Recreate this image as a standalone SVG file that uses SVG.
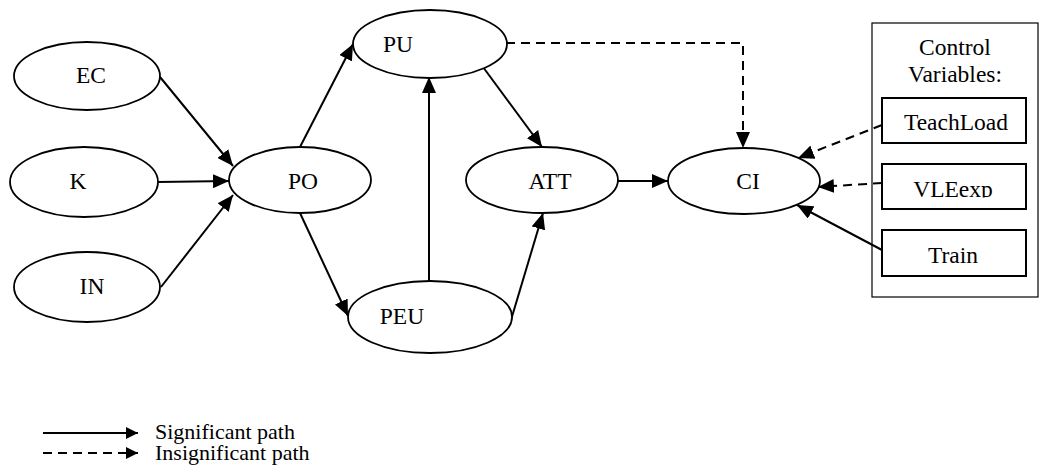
<svg xmlns="http://www.w3.org/2000/svg" width="1039" height="475" viewBox="0 0 1039 475">
  <style>
    .node { fill: #fff; stroke: #000; stroke-width: 1.8; }
    .box { fill: #fff; stroke: #000; stroke-width: 2; }
    .frame { fill: #fff; stroke: #000; stroke-width: 1.2; }
    .lbl { font-family: "Liberation Serif", "Times New Roman", serif; font-size: 23.5px; fill: #000; text-anchor: middle; }
    .leg { font-family: "Liberation Serif", "Times New Roman", serif; font-size: 22px; fill: #000; }
    .edge { fill: none; stroke: #000; stroke-width: 2; marker-end: url(#arrow); }
    .dash { stroke-dasharray: 9 6; }
    .legline { fill: none; stroke: #000; stroke-width: 2; marker-end: url(#arrowSmall); }
  </style>
  <defs>
    <marker id="arrow" markerUnits="userSpaceOnUse" markerWidth="16" markerHeight="14" refX="16" refY="7" orient="auto">
      <path d="M0,0 L16,7 L0,14 z" fill="#000"/>
    </marker>
    <marker id="arrowSmall" markerUnits="userSpaceOnUse" markerWidth="12" markerHeight="12" refX="12" refY="6" orient="auto">
      <path d="M0,0 L12,6 L0,12 z" fill="#000"/>
    </marker>
    <!-- VLEexp label is cut off at its baseline -->
    <clipPath id="vleClip">
      <rect x="882" y="164" width="144" height="33.5"/>
    </clipPath>
  </defs>

  <rect width="1039" height="475" fill="#fff"/>

  <!-- control variables frame -->
  <g id="controls">
    <rect class="frame" x="872" y="23" width="166" height="274"/>
    <text class="lbl" x="955" y="55">Control</text>
    <text class="lbl" x="955" y="82">Variables:</text>
  </g>

  <!-- connectors -->
  <g id="connectors">
    <line class="edge" x1="160" y1="77" x2="233" y2="166"/>
    <line class="edge" x1="158" y1="182" x2="229" y2="181"/>
    <line class="edge" x1="161" y1="287" x2="233" y2="195"/>
    <line class="edge" x1="300" y1="147" x2="353" y2="44"/>
    <line class="edge" x1="300" y1="213" x2="348" y2="316"/>
    <line class="edge" x1="429" y1="281" x2="429" y2="77"/>
    <line class="edge" x1="483" y1="67" x2="542" y2="147"/>
    <line class="edge" x1="511" y1="320" x2="543" y2="213"/>
    <line class="edge" x1="618" y1="181" x2="668" y2="181"/>
    <polyline class="edge dash" points="506,43 743,43 743,148"/>
    <line class="edge dash" x1="882" y1="125" x2="798" y2="158"/>
    <line class="edge dash" x1="882" y1="183" x2="818" y2="187"/>
    <line class="edge" x1="882" y1="250" x2="797" y2="205"/>
  </g>

  <!-- nodes -->
  <g id="EC">
    <ellipse class="node" cx="87" cy="76" rx="73" ry="34"/>
    <text class="lbl" x="91" y="83">EC</text>
  </g>
  <g id="K">
    <ellipse class="node" cx="84" cy="182" rx="74" ry="35"/>
    <text class="lbl" x="78" y="189">K</text>
  </g>
  <g id="IN">
    <ellipse class="node" cx="87" cy="287" rx="73" ry="35"/>
    <text class="lbl" x="92" y="294">IN</text>
  </g>
  <g id="PO">
    <ellipse class="node" cx="300" cy="180" rx="71" ry="33"/>
    <text class="lbl" x="303" y="189">PO</text>
  </g>
  <g id="PU">
    <ellipse class="node" cx="430" cy="44" rx="77" ry="34"/>
    <text class="lbl" x="398" y="52">PU</text>
  </g>
  <g id="PEU">
    <ellipse class="node" cx="430" cy="317" rx="82" ry="36"/>
    <text class="lbl" x="402" y="324">PEU</text>
  </g>
  <g id="ATT">
    <ellipse class="node" cx="542" cy="180" rx="76" ry="33"/>
    <text class="lbl" x="550" y="189">ATT</text>
  </g>
  <g id="CI">
    <ellipse class="node" cx="744" cy="181" rx="76" ry="33"/>
    <text class="lbl" x="748" y="189">CI</text>
  </g>
  <g id="TeachLoad">
    <rect class="box" x="882" y="98" width="144" height="45"/>
    <text class="lbl" x="956" y="130">TeachLoad</text>
  </g>
  <g id="VLEexp">
    <rect class="box" x="882" y="164" width="144" height="45"/>
    <text class="lbl" x="953" y="197" clip-path="url(#vleClip)">VLEexp</text>
  </g>
  <g id="Train">
    <rect class="box" x="882" y="230" width="144" height="46"/>
    <text class="lbl" x="953" y="263">Train</text>
  </g>

  <!-- legend -->
  <g id="legend">
    <line class="legline" x1="43" y1="433" x2="138" y2="433"/>
    <text class="leg" x="155" y="439">Significant path</text>
    <line class="legline dash" x1="43" y1="453" x2="138" y2="453"/>
    <text class="leg" x="155" y="460">Insignificant path</text>
  </g>
</svg>
